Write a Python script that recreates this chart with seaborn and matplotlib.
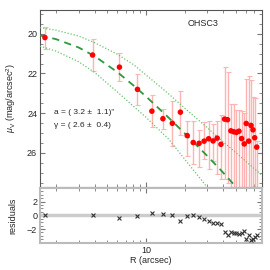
import matplotlib
matplotlib.use('Agg')
import matplotlib.pyplot as plt
import matplotlib.ticker as mticker
import numpy as np
import pandas as pd
import seaborn as sns

# measured profile
radius = [1.64, 3.85, 6.23, 8.61, 11.14, 13.58, 16.07, 18.57, 20.98, 23.37,
          25.96, 28.4, 30.8, 33.35, 35.9, 38.4, 41.0, 43.2, 45.9, 48.4,
          50.7, 53.0, 55.6, 58.3, 60.4, 63.1, 65.8, 68.2, 70.3, 72.9]
mu_v = [20.19, 21.07, 21.68, 22.80, 23.90, 24.28, 24.51, 23.95, 25.13, 25.48,
        25.52, 25.41, 25.29, 25.40, 25.26, 25.57, 24.30, 24.33, 24.89, 24.94,
        24.97, 24.91, 25.28, 25.55, 24.52, 25.41, 24.62, 24.84, 25.24, 25.71]
mu_top = [19.66, 20.24, 20.95, 22.02, 23.07, 23.78, 23.39, 22.89, 24.40, 24.40,
          24.84, 24.45, 24.37, 24.57, 24.42, 24.07, 21.68, 21.92, 23.53, 23.53,
          23.83, 23.83, 23.91, 24.01, 22.26, 22.15, 22.31, 23.19, 23.26, 25.38]
mu_bot = [20.75, 21.89, 22.40, 23.59, 24.71, 24.79, 25.63, 25.08, 26.14, 26.56,
          26.73, 26.30, 26.81, 26.39, 27.05, 27.30, 27.30, 27.50, 28.5, 28.5,
          28.5, 28.5, 28.5, 28.5, 28.5, 28.5, 28.5, 28.5, 28.5, 28.5]
residuals = [0.0, 0.0, -0.4, -0.05, 0.4, 0.25, 0.1, -0.9, -0.05, 0.05,
             -0.25, -0.6, -0.9, -1.05, -1.15, -1.3, -2.5, -2.85, -2.45, -2.6,
             -2.6, -2.75, -2.6, -2.35, -3.4, -2.85, -3.6, -3.45, -3.2, -2.85]

# fitted model and envelopes
model_r = [1.5, 2, 3, 4, 6, 8, 10, 15, 20, 30, 40, 50, 60]
model_mu = [20.08, 20.27, 20.69, 21.13, 21.93, 22.60, 23.15, 24.22, 25.01,
            26.15, 27.0, 27.7, 28.3]
upper_r = [1.5, 2, 3, 4, 6, 8, 10, 15, 20, 30, 40, 50, 60, 80]
upper_mu = [19.69, 19.82, 20.11, 20.45, 21.03, 21.55, 22.07, 23.02, 23.74,
            24.73, 25.45, 25.98, 26.43, 27.13]
lower_r = [1.5, 2, 3, 4, 6, 8, 10, 15, 20, 30, 35]
lower_mu = [20.62, 20.87, 21.41, 21.95, 22.93, 23.65, 24.20, 25.30, 26.31,
            27.73, 28.32]

sns.set_style('ticks')
plt.rcParams['font.family'] = ['Liberation Sans', 'DejaVu Sans']
plt.rcParams['mathtext.fontset'] = 'custom'
plt.rcParams['mathtext.rm'] = 'Liberation Sans'
plt.rcParams['mathtext.it'] = 'Liberation Sans:italic'

fig = plt.figure(figsize=(2.7, 2.7), dpi=100)
ax = fig.add_axes([0.148, 0.309, 0.822, 0.654])
axr = fig.add_axes([0.148, 0.101, 0.822, 0.203])

for a in (ax, axr):
    a.set_xscale('log')
    a.set_xlim(1.5, 80)

df = pd.DataFrame({'R': radius, 'mu': mu_v, 'res': residuals})
yerr = [np.array(mu_v) - np.array(mu_top), np.array(mu_bot) - np.array(mu_v)]

ax.errorbar(radius, mu_v, yerr=yerr, fmt='none', ecolor='#ffb3b3',
            elinewidth=1, capsize=1.8, capthick=0.8, zorder=2)
sns.lineplot(x=model_r, y=model_mu, ax=ax, color='#2a9a3a', lw=1.3,
             linestyle=(0, (4, 3)), sort=False, estimator=None, zorder=3)
sns.lineplot(x=upper_r, y=upper_mu, ax=ax, color='#6cc070', lw=0.9,
             linestyle=(0, (1, 1.5)), sort=False, estimator=None, zorder=3)
sns.lineplot(x=lower_r, y=lower_mu, ax=ax, color='#6cc070', lw=0.9,
             linestyle=(0, (1, 1.5)), sort=False, estimator=None, zorder=3)
sns.scatterplot(data=df, x='R', y='mu', ax=ax, color='red', s=16,
                edgecolor='none', zorder=4)

ax.set_ylim(27.7, 18.8)
ax.yaxis.set_major_locator(mticker.MultipleLocator(2))
ax.yaxis.set_minor_locator(mticker.MultipleLocator(0.5))
ax.set_xlabel('')
ax.set_ylabel(r'$\mu_\mathrm{V}$ (mag/arcsec$^2$)', fontsize=6.5)
ax.tick_params(labelbottom=False)
ax.text(0.735, 0.925, 'OHSC3', transform=ax.transAxes, fontsize=6.5,
        ha='center', va='center')
ax.text(0.065, 0.42, 'a = ( 3.2 ±  1.1)"', transform=ax.transAxes,
        fontsize=6, ha='left', va='center')
ax.text(0.065, 0.345, 'γ = ( 2.6 ±  0.4)', transform=ax.transAxes,
        fontsize=6, ha='left', va='center')

axr.axhline(0, color='#cccccc', lw=2.5, zorder=1)
sns.scatterplot(data=df, x='R', y='res', ax=axr, marker='x', color='#333333',
                s=8, linewidth=0.8, zorder=3)
axr.set_ylim(-4, 4)
axr.yaxis.set_major_locator(mticker.FixedLocator([-2, 0, 2]))
axr.yaxis.set_minor_locator(mticker.MultipleLocator(0.5))
axr.set_ylabel('residuals', fontsize=6.5)
axr.set_xlabel('R (arcsec)', fontsize=6.5, labelpad=1)

for a in (ax, axr):
    a.xaxis.set_major_locator(mticker.LogLocator(base=10))
    a.xaxis.set_minor_locator(mticker.LogLocator(base=10, subs=np.arange(2, 10)))
    a.xaxis.set_minor_formatter(mticker.NullFormatter())
    a.xaxis.set_major_formatter(mticker.FuncFormatter(lambda v, p: f'{v:g}'))
    a.tick_params(which='both', direction='in', top=True, right=True,
                  labelsize=6.5, color='#777777', pad=2)
    a.tick_params(which='major', length=3.5)
    a.tick_params(which='minor', length=2)
    a.yaxis.set_label_coords(-0.1, 0.5)

for s in ax.spines.values():
    s.set_color('#555555')
    s.set_linewidth(0.8)
for s in axr.spines.values():
    s.set_color('#bbbbbb')
    s.set_linewidth(1.5)

fig.savefig('out.png', dpi=100)
